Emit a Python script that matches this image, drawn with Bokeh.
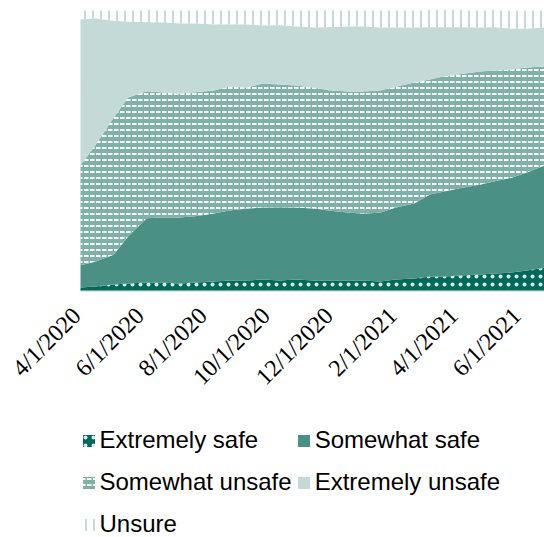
from math import pi

import numpy as np
import pandas as pd

from bokeh.plotting import figure
from bokeh.models import ColumnDataSource, Legend, LabelSet, Range1d
from bokeh.embed import file_html
from bokeh.resources import INLINE

# Survey dates
dates = ["2020-04-01", "2020-04-15", "2020-05-03", "2020-05-17", "2020-06-04",
         "2020-06-19", "2020-07-06", "2020-07-21", "2020-08-08", "2020-08-23",
         "2020-09-09", "2020-09-24", "2020-10-11", "2020-10-26", "2020-11-13",
         "2020-11-27", "2020-12-15", "2020-12-30", "2021-01-16", "2021-01-31",
         "2021-02-18", "2021-03-05", "2021-03-19", "2021-04-03", "2021-04-22",
         "2021-05-07", "2021-05-23", "2021-06-07", "2021-06-24"]

# Share of respondents (%) per answer
extremely_safe = [1.1, 1.4, 2.1, 2.5, 2.9, 2.9, 2.5, 2.9, 3.2, 3.6,
                  3.6, 3.9, 3.6, 3.9, 3.6, 3.6, 3.6, 3.6, 3.2, 3.9,
                  4.3, 5.0, 5.0, 5.4, 5.7, 6.1, 6.4, 7.1, 8.2]
somewhat_safe = [7.9, 8.9, 10.7, 16.8, 22.9, 23.2, 23.6, 23.6, 24.3, 25.0,
                 25.7, 25.7, 26.1, 25.7, 25.7, 25.0, 24.3, 23.9, 24.6, 25.7,
                 26.8, 29.3, 30.4, 31.1, 32.1, 32.9, 33.9, 35.0, 36.4]
somewhat_unsafe = [35.7, 41.4, 48.9, 49.6, 45.4, 44.6, 44.3, 44.3, 43.9, 44.3,
                   43.2, 44.3, 43.9, 43.6, 43.2, 42.9, 43.2, 43.6, 43.6, 43.2,
                   43.2, 41.1, 41.1, 40.7, 40.4, 39.6, 38.6, 37.5, 35.4]
extremely_unsafe = [52.1, 45.4, 34.6, 27.1, 24.6, 25.0, 25.0, 24.6, 23.6, 22.1,
                    22.5, 20.7, 21.1, 21.1, 21.4, 22.5, 23.2, 23.2, 22.5, 21.1,
                    19.6, 18.6, 17.5, 16.8, 15.7, 15.4, 14.6, 13.9, 13.9]
unsure = [3.2, 2.9, 3.6, 3.9, 4.3, 4.3, 4.6, 4.6, 5.0, 5.0,
          5.0, 5.4, 5.4, 5.7, 6.1, 6.1, 5.7, 5.7, 6.1, 6.1,
          6.1, 6.1, 6.1, 6.1, 6.1, 6.1, 6.4, 6.4, 6.1]

series_names = ["Extremely safe", "Somewhat safe", "Somewhat unsafe",
                "Extremely unsafe", "Unsure"]
tick_dates = ["2020-04-01", "2020-06-01", "2020-08-01", "2020-10-01",
              "2020-12-01", "2021-02-01", "2021-04-01", "2021-06-01"]
tick_labels = ["4/1/2020", "6/1/2020", "8/1/2020", "10/1/2020",
               "12/1/2020", "2/1/2021", "4/1/2021", "6/1/2021"]

# Page geometry (pixels): the plotting area covers the whole page so the
# rotated date labels and the legend can sit underneath the stacked areas.
W, H = 544, 537
AREA_LEFT, AREA_TOP, AREA_BOTTOM = 80, 10, 290
LABEL_GAP = 12       # label anchor below the baseline
LABEL_SHIFT = -13    # horizontal nudge of the label anchor
px_per_pct = (AREA_BOTTOM - AREA_TOP) / 100.0

x = pd.to_datetime(dates)
x_first, x_last = x[0], x[-1]
span = x_last - x_first
time_per_px = span / (W - AREA_LEFT)
x_start = x_first - time_per_px * AREA_LEFT
y_start = -(H - AREA_BOTTOM) / px_per_pct
y_end = 100 + AREA_TOP / px_per_pct

series = [extremely_safe, somewhat_safe, somewhat_unsafe, extremely_unsafe, unsure]
tops = np.cumsum(np.array(series), axis=0)
bottoms = np.vstack([np.zeros(len(dates)), tops[:-1]])

data = {"x": x}
for i in range(len(series)):
    data[f"lo{i}"] = bottoms[i]
    data[f"hi{i}"] = tops[i]
source = ColumnDataSource(data)

styles = [
    dict(fill_color="#00695a", hatch_pattern="dot", hatch_color="#ffffff",
         hatch_scale=8, hatch_alpha=0.85),
    dict(fill_color="#4b9084"),
    dict(fill_color="#7fb2a7", hatch_pattern="horizontal_dash",
         hatch_color="#ffffff", hatch_scale=6, hatch_weight=2),
    dict(fill_color="#c3dad6"),
    dict(fill_alpha=0, hatch_pattern="vertical_line", hatch_color="#c3dad6",
         hatch_scale=8, hatch_weight=2),
]

p = figure(width=W, height=H, x_axis_type="datetime",
           x_range=Range1d(x_start, x_last), y_range=Range1d(y_start, y_end),
           output_backend="svg", toolbar_location=None,
           min_border=0)

renderers = []
for i, st in enumerate(styles):
    renderers.append(p.varea(x="x", y1=f"lo{i}", y2=f"hi{i}", source=source, **st))

# Baseline of the date axis
p.line(x=[x_first, x_last], y=[0, 0], line_color="#d9d9d9", line_width=2.5,
       level="underlay")

# Rotated date labels under the baseline, right end at each date
ticks = ColumnDataSource(dict(
    x=pd.to_datetime(tick_dates) + time_per_px * LABEL_SHIFT,
    y=[-LABEL_GAP / px_per_pct] * len(tick_dates),
    text=tick_labels))
p.add_layout(LabelSet(x="x", y="y", text="text", source=ticks,
                      angle=pi / 4, text_align="right", text_baseline="top",
                      text_font="Liberation Sans", text_font_size="24px",
                      text_color="#000000"))

# Legend: two entries per row below the dates
legend = Legend(items=[(n, [r]) for n, r in zip(series_names, renderers)],
                orientation="horizontal", ncols=2,
                location=(AREA_LEFT + 0.5, -6),
                margin=0, padding=0, spacing=4,
                glyph_width=15, glyph_height=15, label_standoff=4,
                label_text_font="Liberation Sans", label_text_font_size="24px",
                label_text_color="#000000", label_height=38,
                border_line_color=None, background_fill_alpha=0)
p.add_layout(legend)

p.xaxis.visible = False
p.yaxis.visible = False
p.xgrid.visible = False
p.ygrid.visible = False
p.outline_line_color = None
p.background_fill_color = "#ffffff"
p.border_fill_color = "#ffffff"

open("out.html", "w").write(file_html(p, INLINE))
